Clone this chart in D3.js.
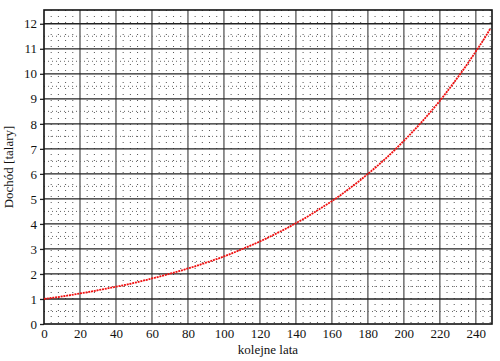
<!DOCTYPE html>
<html>
<head>
<meta charset="utf-8">
<script src="https://cdn.jsdelivr.net/npm/d3@7"></script>
<style>
  body { margin: 0; background: #fff; }
</style>
</head>
<body>
<svg id="chart" width="500" height="361"></svg>
<script>
// values (year -> income)
const years = [0, 5, 10, 15, 20, 25, 30, 35, 40, 45, 50, 55, 60, 65, 70, 75, 80, 85, 90, 95,
  100, 105, 110, 115, 120, 125, 130, 135, 140, 145, 150, 155, 160, 165, 170, 175, 180, 185, 190, 195,
  200, 205, 210, 215, 220, 225, 230, 235, 240, 245, 248];
const income = [1.00, 1.05, 1.10, 1.16, 1.22, 1.28, 1.35, 1.42, 1.49, 1.56, 1.64, 1.73, 1.82, 1.91, 2.01, 2.11, 2.22, 2.33, 2.45, 2.57,
  2.70, 2.84, 2.99, 3.14, 3.30, 3.47, 3.65, 3.83, 4.03, 4.23, 4.45, 4.68, 4.91, 5.16, 5.43, 5.70, 6.00, 6.30, 6.62, 6.96,
  7.32, 7.69, 8.08, 8.49, 8.92, 9.38, 9.86, 10.36, 10.89, 11.44, 11.80];
const xTicks = [0, 20, 40, 60, 80, 100, 120, 140, 160, 180, 200, 220, 240];
const yTicks = [0, 1, 2, 3, 4, 5, 6, 7, 8, 9, 10, 11, 12];
const xLabel = 'kolejne lata';
const yLabel = 'Dochód [talary]';

const font = '"Liberation Serif", "Times New Roman", "DejaVu Serif", serif';
const margin = { top: 10, right: 8, bottom: 37, left: 44 };
const width = 500 - margin.left - margin.right,
  height = 361 - margin.top - margin.bottom;

const svg = d3.select('#chart')
  .append('g')
  .attr('transform', `translate(${margin.left}, ${margin.top})`);

const x = d3.scaleLinear().domain([0, 249]).range([0, width]);
const y = d3.scaleLinear().domain([0, 12.55]).range([height, 0]);

// minor dotted grid
const minorX = d3.range(0, 249, 4).filter(v => v % 20 !== 0);
const minorY = d3.range(0.5, 12.5, 1);
svg.append('g').selectAll('line')
  .data(minorX)
  .enter().append('line')
  .attr('x1', d => x(d)).attr('x2', d => x(d))
  .attr('y1', 0).attr('y2', height)
  .attr('stroke', '#555').attr('stroke-width', 1)
  .attr('stroke-dasharray', '1,5');
svg.append('g').selectAll('line')
  .data(minorY)
  .enter().append('line')
  .attr('x1', 0).attr('x2', width)
  .attr('y1', d => y(d)).attr('y2', d => y(d))
  .attr('stroke', '#666').attr('stroke-width', 1)
  .attr('stroke-dasharray', '1,3');

// major grid
svg.append('g').selectAll('line')
  .data(xTicks.filter(d => d > 0))
  .enter().append('line')
  .attr('x1', d => x(d)).attr('x2', d => x(d))
  .attr('y1', 0).attr('y2', height)
  .attr('stroke', '#777').attr('stroke-width', 1.6);
svg.append('g').selectAll('line')
  .data(yTicks.filter(d => d > 0))
  .enter().append('line')
  .attr('x1', 0).attr('x2', width)
  .attr('y1', d => y(d)).attr('y2', d => y(d))
  .attr('stroke', '#222').attr('stroke-width', 1.3);

// axes
const xAxis = svg.append('g')
  .attr('transform', `translate(0,${height})`)
  .call(d3.axisBottom(x).tickValues(xTicks).tickSize(0).tickPadding(5));
const yAxis = svg.append('g')
  .call(d3.axisLeft(y).tickValues(yTicks).tickSize(4).tickPadding(3));
[xAxis, yAxis].forEach(a => {
  a.attr('font-family', font).attr('font-size', 13);
  a.select('.domain').remove();
  a.selectAll('text').attr('fill', '#111');
  a.selectAll('line').attr('stroke', '#222').attr('stroke-width', 1.3);
});

// frame
svg.append('rect')
  .attr('x', 0).attr('y', 0)
  .attr('width', width).attr('height', height)
  .attr('fill', 'none').attr('stroke', '#111').attr('stroke-width', 1.6);

// curve
const line = d3.line()
  .x((d, i) => x(years[i]))
  .y(d => y(d))
  .curve(d3.curveMonotoneX);
svg.append('path')
  .datum(income)
  .attr('d', line)
  .attr('fill', 'none')
  .attr('stroke', '#f01010')
  .attr('stroke-width', 1.8)
  .attr('stroke-dasharray', '2,0.8');

// labels
svg.append('text')
  .attr('x', width / 2).attr('y', height + 30)
  .attr('font-family', font).attr('font-size', 13).attr('fill', '#111')
  .attr('text-anchor', 'middle')
  .text(xLabel);
svg.append('text')
  .attr('transform', 'rotate(-90)')
  .attr('x', -height / 2).attr('y', -31)
  .attr('font-family', font).attr('font-size', 13).attr('fill', '#111')
  .attr('text-anchor', 'middle')
  .text(yLabel);
</script>
</body>
</html>
